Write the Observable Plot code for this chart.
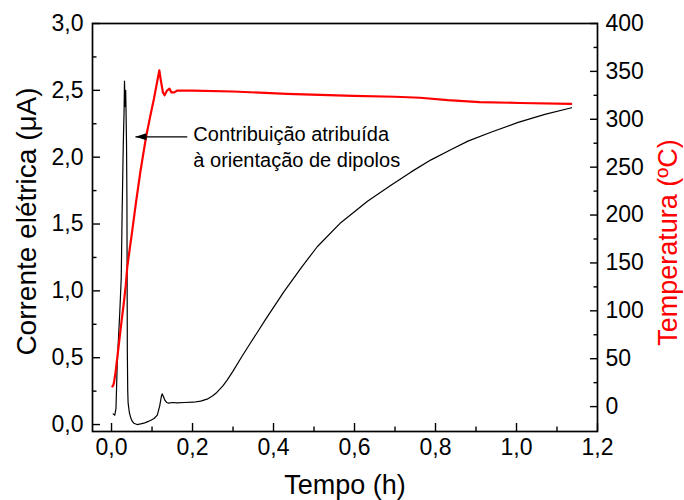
<!DOCTYPE html>
<html><head><meta charset="utf-8">
<script src="https://cdn.jsdelivr.net/npm/d3@7"></script>
<script src="https://cdn.jsdelivr.net/npm/@observablehq/plot@0.6"></script>
<style>body{margin:0;background:#fff}</style>
</head><body><div id="chart"></div>
<script>
// Corrente elétrica (µA) vs tempo (h)
const currentTime = [0.004,0.008,0.011,0.014,0.0205,0.024,0.026,0.029,0.031,0.032,0.0335,0.035,0.036,0.037,0.038,0.0385,0.039,0.040,0.041,0.044,0.047,0.051,0.055,0.063,0.072,0.080,0.088,0.096,0.105,0.113,0.119,0.123,0.125,0.128,0.132,0.136,0.141,0.150,0.162,0.180,0.202,0.220,0.236,0.250,0.260,0.275,0.285,0.300,0.320,0.343,0.359,0.380,0.425,0.470,0.508,0.566,0.632,0.690,0.740,0.789,0.840,0.880,0.940,1.004,1.070,1.136];
const currentValue = [0.08,0.07,0.12,0.45,0.85,1.10,1.55,2.10,2.35,2.57,2.38,2.50,2.30,2.10,1.70,1.10,0.55,0.25,0.16,0.09,0.055,0.025,0.01,0.00,0.005,0.01,0.02,0.03,0.045,0.07,0.14,0.21,0.23,0.21,0.18,0.165,0.16,0.165,0.162,0.165,0.167,0.175,0.19,0.215,0.24,0.29,0.33,0.40,0.50,0.61,0.685,0.785,0.99,1.18,1.33,1.51,1.67,1.79,1.89,1.98,2.06,2.12,2.19,2.26,2.32,2.37];
// Temperatura (ºC) vs tempo (h)
const tempTime = [0.002,0.004,0.006,0.010,0.015,0.020,0.025,0.030,0.035,0.0387,0.045,0.050,0.060,0.0715,0.0796,0.0855,0.095,0.105,0.113,0.118,0.122,0.127,0.131,0.137,0.143,0.148,0.155,0.162,0.200,0.300,0.433,0.597,0.700,0.762,0.830,0.909,1.008,1.135];
const tempValue = [21,22,25,36,54,72,90,107,126,145,165,180,212,246,267,282,302,322,340,351,340,328,325,330,332,328,328,330,330,329,326.5,324.5,323.5,322.5,320,318,317,316];

const xTicks = [0,0.2,0.4,0.6,0.8,1.0,1.2];
const xMinorTicks = [0.1,0.3,0.5,0.7,0.9,1.1];
const yTicks = [0,0.5,1.0,1.5,2.0,2.5,3.0];
const yMinorTicks = [0.25,0.75,1.25,1.75,2.25,2.75];
const tTicks = [0,50,100,150,200,250,300,350,400];
const tMinorTicks = [25,75,125,175,225,275,325,375];

const annotationText = ["Contribuição atribuída","à orientação de dipolos"];
const annotationX = [0.202,0.202];
const annotationY = [2.167,1.976];
const arrowFrom = [0.187,2.152];
const arrowTo = [0.059,2.152];

const xDomain = [-0.047,1.2];
const yDomain = [-0.052,3.0];
const tDomain = [-26,400];
const toY = t => yDomain[0] + (t - tDomain[0]) * (yDomain[1]-yDomain[0]) / (tDomain[1]-tDomain[0]);
const fromY = y => tDomain[0] + (y - yDomain[0]) * (tDomain[1]-tDomain[0]) / (yDomain[1]-yDomain[0]);
const fmt1 = d => d.toFixed(1).replace(".", ",");

const current = currentTime.map((t,i)=>({t, v: currentValue[i]}));
const temp = tempTime.map((t,i)=>({t, v: toY(tempValue[i])}));
const annots = annotationText.map((s,i)=>({s, x: annotationX[i], y: annotationY[i]}));

const arrowHead = {draw(ctx){ ctx.moveTo(0,0); ctx.lineTo(11,-3.5); ctx.lineTo(11,3.5); ctx.closePath(); }};
const font = "'Liberation Sans', Arial, Helvetica, sans-serif";

const chart = Plot.plot({
  width: 684, height: 500,
  marginLeft: 92, marginRight: 87, marginTop: 23, marginBottom: 69,
  style: {fontFamily: font, background: "#fff", color: "#000"},
  x: {domain: xDomain},
  y: {domain: yDomain},
  marks: [
    Plot.axisX({ticks: xTicks, tickSize: -8, tickPadding: 15, tickFormat: fmt1, fontSize: 23, label: null, strokeWidth: 1.4}),
    Plot.axisX({ticks: xMinorTicks, tickSize: -4.5, tickFormat: () => "", label: null, strokeWidth: 1.4}),
    Plot.axisY({ticks: yTicks, tickSize: -8, tickPadding: 17, tickFormat: fmt1, fontSize: 23, label: null, strokeWidth: 1.4}),
    Plot.axisY({ticks: yMinorTicks, tickSize: -4.5, tickFormat: () => "", label: null, strokeWidth: 1.4}),
    Plot.axisY({anchor: "right", ticks: tTicks.map(toY), tickSize: -8, tickPadding: 16, tickFormat: d => String(Math.round(fromY(d))), fontSize: 23, label: null, strokeWidth: 1.4}),
    Plot.axisY({anchor: "right", ticks: tMinorTicks.map(toY), tickSize: -4.5, tickFormat: () => "", label: null, strokeWidth: 1.4}),
    Plot.frame({stroke: "#000", strokeWidth: 1.7}),
    Plot.line(current, {x: "t", y: "v", stroke: "#000", strokeWidth: 1.2}),
    Plot.line(temp, {x: "t", y: "v", stroke: "#ff0000", strokeWidth: 2.2}),
    Plot.link([0], {x1: arrowFrom[0], y1: arrowFrom[1], x2: arrowTo[0], y2: arrowTo[1], stroke: "#000", strokeWidth: 1.1}),
    Plot.dot([0], {x: arrowTo[0], y: arrowTo[1], symbol: arrowHead, fill: "#000", stroke: "none"}),
    Plot.text(annots, {x: "x", y: "y", text: "s", textAnchor: "start", lineAnchor: "middle", fontSize: 20, fill: "#000"}),
    Plot.text(["Corrente elétrica (μA)"], {frameAnchor: "left", textAnchor: "middle", lineAnchor: "middle", dx: -65, dy: -6, rotate: -90, fontSize: 28, fill: "#000"}),
    Plot.text(["Temperatura (ºC)"], {frameAnchor: "right", textAnchor: "middle", lineAnchor: "middle", dx: 71, dy: 15, rotate: -90, fontSize: 27, fill: "#ff0000"}),
    Plot.text(["Tempo (h)"], {frameAnchor: "bottom", lineAnchor: "middle", dy: 54, fontSize: 27, fill: "#000"})
  ]
});
document.getElementById("chart").appendChild(chart);
</script>
</body></html>
